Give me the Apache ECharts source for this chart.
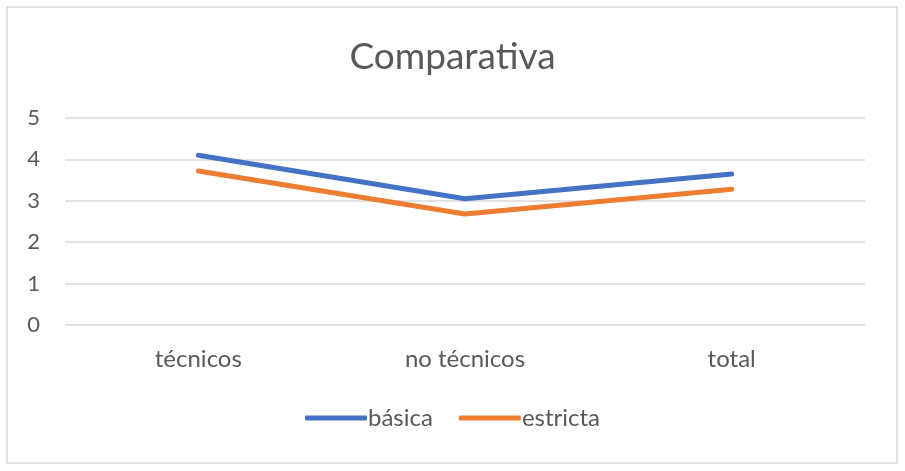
<!DOCTYPE html>
<html>
<head>
<meta charset="utf-8">
<script src="https://cdn.jsdelivr.net/npm/echarts@6/dist/echarts.min.js"></script>
<style>
  html, body { margin: 0; padding: 0; background: #fff; }
  #chart { width: 905px; height: 471px; }
</style>
</head>
<body>
<div id="chart"></div>
<script>
var categories = ["técnicos", "no técnicos", "total"];
var basica = [4.1, 3.05, 3.65];
var estricta = [3.72, 2.68, 3.28];
var yTicks = [0, 1, 2, 3, 4, 5];

var font = "Lato, 'Open Sans', sans-serif";
var chart = echarts.init(document.getElementById("chart"));

chart.setOption({
  backgroundColor: "#fff",
  textStyle: { fontFamily: font },
  graphic: [
    {
      type: "rect",
      shape: { x: 7, y: 7, width: 890, height: 456 },
      style: { fill: "none", stroke: "#d9d9d9", lineWidth: 1.5 },
      silent: true,
    },
  ],
  title: {
    text: "Comparativa",
    left: "center",
    top: 34,
    textStyle: { fontFamily: font, fontSize: 37, fontWeight: "normal", color: "#595959" },
  },
  grid: { left: 65, right: 40, top: 118, bottom: 146 },
  legend: {
    bottom: 36,
    left: "center",
    itemWidth: 62,
    itemHeight: 5,
    itemGap: 26,
    textStyle: { fontFamily: font, fontSize: 24, color: "#595959", padding: [0, 0, 0, -4] },
    data: [
      { name: "básica", icon: "roundRect" },
      { name: "estricta", icon: "roundRect" },
    ],
  },
  xAxis: {
    type: "category",
    data: categories,
    boundaryGap: true,
    axisLine: { show: false },
    axisTick: { show: false },
    axisLabel: { fontFamily: font, fontSize: 24, color: "#595959", margin: 22 },
  },
  yAxis: {
    type: "value",
    min: yTicks[0],
    max: yTicks[yTicks.length - 1],
    interval: 1,
    axisLine: { show: false },
    axisTick: { show: false },
    axisLabel: { fontFamily: font, fontSize: 22, color: "#595959", margin: 25 },
    splitLine: { lineStyle: { color: "#d9d9d9", width: 1.5 } },
  },
  series: [
    {
      name: "básica",
      type: "line",
      data: basica,
      symbol: "none",
      color: "#4472c4",
      lineStyle: { width: 5, cap: "round", join: "round" },
    },
    {
      name: "estricta",
      type: "line",
      data: estricta,
      symbol: "none",
      color: "#ed7d31",
      lineStyle: { width: 5, cap: "round", join: "round" },
    },
  ],
});
</script>
</body>
</html>
